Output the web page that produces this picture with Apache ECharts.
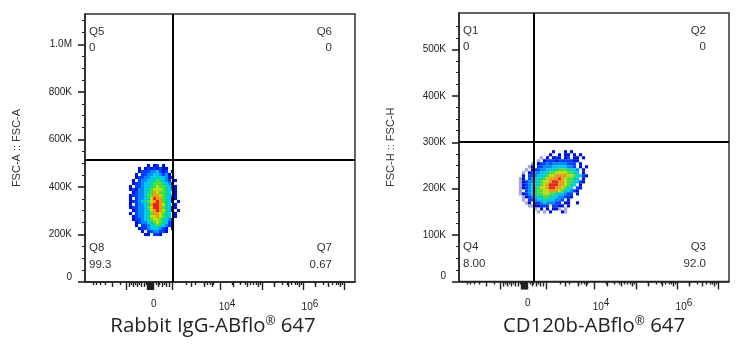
<!DOCTYPE html>
<html><head><meta charset="utf-8">
<script src="https://cdn.jsdelivr.net/npm/echarts@6/dist/echarts.min.js"></script>
<style>html,body{margin:0;padding:0;background:#fff}#c{width:742px;height:350px}</style>
</head><body><div id="c"></div>
<script>
// x axis: biexponential display channel, 0-1000
const xMajorTicks=[154,231,235,239,242,246,250,254,324,500,656,807,959];
const xMidTicks=[100,163,178,193,207,218,270,285,300,311,393,440,470,548,600,641,702,752,793,854,900,944];
const xMinorTicks=[31,42,56,74,130,170,185,200,225,263,274,293,374,407,441,452,463,474,544,574,593,611,622,633,648,700,730,748,763,778,785,800,852,881,915,930,937,952];
const xLabelValues=[255,526,833];
const xLabelTexts=['0','10{sup|4}','10{sup|6}'];

const yLeftMajor=[0,200000,400000,600000,800000,1000000];
const yLeftMinor=[50000,100000,150000,250000,300000,350000,450000,500000,550000,650000,700000,750000,850000,900000,950000,1050000,1100000];
const yLeftLabels=['0','200K','400K','600K','800K','1.0M'];
const yLeftMax=1128400;
const yRightMajor=[0,100000,200000,300000,400000,500000];
const yRightMinor=[25000,50000,75000,125000,150000,175000,225000,250000,275000,325000,350000,375000,425000,450000,475000,525000,550000];
const yRightLabels=['0','100K','200K','300K','400K','500K'];
const yRightMax=578800;

const gateLeft={x:324,y:514000};
const gateRight={x:277,y:302000};

const levelColors=['#a8a8d0','#0010d8','#0040ff','#0090ff','#00d0f0','#00e0a0','#50e830','#c8e800','#ffa000','#f02814'];

// density: one string per row, '.' = no events, 0-9 = density level
const rabbitDensity=[
"......1.12.1.....",
"...1.12121211....",
"...1222334212.1..",
"..1.2233443231...",
"..1223344544312..",
".1.23344565432.1.",
".12234456665431..",
"1.22344567665421.",
"1213345677765431.",
".1233456876654.1.",
"1223346688765431.",
"1.23345798865411.",
"122345678986541.1",
"1.233458998754.1.",
"1223346799865411.",
".12334578987541.1",
"1.233456887654.1.",
".1233457787654.1.",
".12234567765431..",
"..1233456765421..",
"..1.22345654321..",
"...1223444321.1..",
"....1.2233221....",
".....11.221......"];
const rabbitOrigin={x:168.5,y:490500,dx:11.11,dy:12632};

const cd120Density=[
"...........1...1.1.....",
"..........1..1.11.1.1..",
".......0.1.121.12.11.1.",
"......0.122212222211...",
"....0.1223233333222.1..",
"...01.2233344444332.1.1",
"..0.1223344556665543.1.",
".0.12334456677776654.1.",
".1.22344567788887765421",
"01.23455678889876654.1.",
"0123345677899887665421.",
"0123445678999887654.1..",
"012345677899887654.21..",
"0.234566778887654321...",
"012345667766554322.1...",
".01234556655433221.....",
".0.223445544332.1......",
"..01.223433322.11..1...",
"...0011222.2211.1......",
".....0.1.1.110.0.......",
"......0.0.1...10......."];
const cd120Origin={x:227.8,y:279700,dx:11.11,dy:6479};

const captionLeft=['Rabbit IgG-ABflo','647'];
const captionRight=['CD120b-ABflo','647'];

function cells(rows,o){
  const out=[];
  rows.forEach((r,i)=>{for(let j=0;j<r.length;j++){const c=r[j];
    if(c>='0'&&c<='9')out.push([o.x+j*o.dx,o.y-i*o.dy,+c]);}});
  return out;
}
const tickFont={fontFamily:'Liberation Sans',fontSize:10,color:'#222'};
function xAxes(g,vals,len,withLabels){
  return {type:'value',gridIndex:g,min:0,max:1000,position:'bottom',splitLine:{show:false},
    axisLine:{show:withLabels,onZero:false,lineStyle:{color:'#222',width:1.5}},
    axisTick:{show:true,customValues:vals,length:len,lineStyle:{color:'#222',width:1.4}},
    axisLabel:withLabels?{show:true,customValues:xLabelValues,margin:17,...tickFont,
      formatter:(v,i)=>xLabelTexts[xLabelValues.indexOf(v)],
      rich:{sup:{fontFamily:'Liberation Sans',fontSize:10,color:'#222',verticalAlign:'bottom',padding:[0,0,7,0]}}}:{show:false}};
}
function yAxes(g,max,vals,len,labels,name){
  return {type:'value',gridIndex:g,min:0,max:max,position:'left',splitLine:{show:false},
    name:name||'',nameLocation:'middle',nameGap:63,
    nameTextStyle:{fontFamily:'Liberation Sans',fontSize:11,color:'#333'},
    axisLine:{show:!!labels,onZero:false,lineStyle:{color:'#222',width:1.5}},
    axisTick:{show:true,customValues:vals,length:len,lineStyle:{color:'#222',width:labels?1.6:1}},
    axisLabel:labels?{show:true,customValues:vals,margin:13,...tickFont,verticalAlignMinLabel:'bottom',
      formatter:(v)=>labels[vals.indexOf(v)]}:{show:false}};
}
function blob(g,data,gate){
  const ax=g*3;
  return {type:'scatter',xAxisIndex:ax,yAxisIndex:g*2,data:data,symbol:'rect',symbolSize:3,silent:true,
    itemStyle:{color:p=>levelColors[p.value[2]],opacity:1,shadowBlur:1.5,shadowColor:'rgba(0,60,255,0.35)'},
    markLine:{silent:true,symbol:'none',animation:false,label:{show:false},
      lineStyle:{color:'#000',width:2,type:'solid'},z:10,
      data:[{xAxis:gate.x},{yAxis:gate.y}]}};
}
function qLabel(x,y,t,right){
  return {type:'text',x:x,y:y,style:{text:t,fontFamily:'Liberation Sans',fontSize:11.5,fill:'#333',
    align:right?'right':'left',verticalAlign:'middle'}};
}
function caption(x,parts){
  return {type:'text',x:x,y:326,style:{
    text:parts[0]+'{s|®} '+parts[1],fontFamily:'Open Sans',fontSize:20.4,fill:'#222',align:'center',verticalAlign:'middle',
    rich:{s:{fontFamily:'Open Sans',fontSize:12,fill:'#222',verticalAlign:'top',padding:[0,0,8,0]}}}};
}
const chart=echarts.init(document.getElementById('c'),null,{renderer:'canvas'});
chart.setOption({
  animation:false,
  grid:[
    {left:85,width:270,top:14,height:268,show:true,borderColor:'#333',borderWidth:1.5,backgroundColor:'#fff'},
    {left:459,width:270,top:13,height:268.5,show:true,borderColor:'#333',borderWidth:1.5,backgroundColor:'#fff'}],
  xAxis:[xAxes(0,xMajorTicks,8,true),xAxes(0,xMidTicks,5,false),xAxes(0,xMinorTicks,3,false),
         xAxes(1,xMajorTicks,8,true),xAxes(1,xMidTicks,5,false),xAxes(1,xMinorTicks,3,false)],
  yAxis:[yAxes(0,yLeftMax,yLeftMajor,7,yLeftLabels,'FSC-A :: FSC-A'),yAxes(0,yLeftMax,yLeftMinor,3,null),
         yAxes(1,yRightMax,yRightMajor,7,yRightLabels,'FSC-H :: FSC-H'),yAxes(1,yRightMax,yRightMinor,3,null)],
  series:[blob(0,cells(rabbitDensity,rabbitOrigin),gateLeft),blob(1,cells(cd120Density,cd120Origin),gateRight)],
  graphic:[
    qLabel(89,32,'Q5'),qLabel(89,48,'0'),qLabel(332,32,'Q6',1),qLabel(332,48,'0',1),
    qLabel(89,248,'Q8'),qLabel(89,265,'99.3'),qLabel(332,248,'Q7',1),qLabel(332,265,'0.67',1),
    qLabel(463,31,'Q1'),qLabel(463,47,'0'),qLabel(706,31,'Q2',1),qLabel(706,47,'0',1),
    qLabel(463,247,'Q4'),qLabel(463,264,'8.00'),qLabel(706,247,'Q3',1),qLabel(706,264,'92.0',1),
    caption(213,captionLeft),caption(594,captionRight)]
});
</script></body></html>
